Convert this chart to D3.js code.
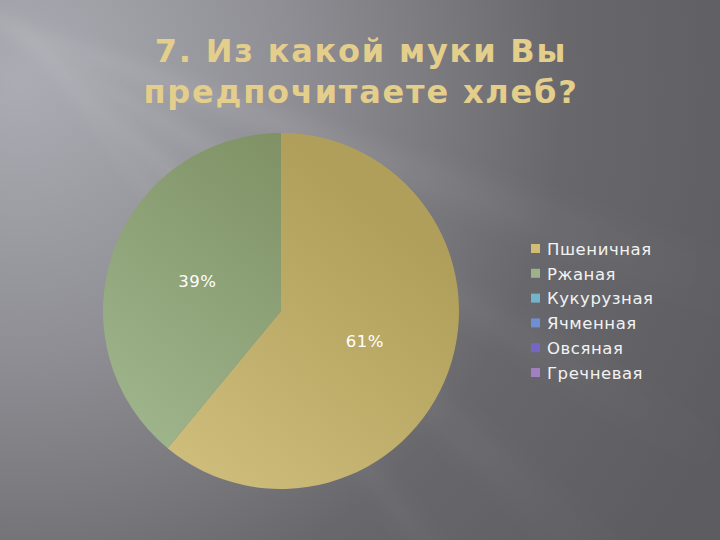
<!DOCTYPE html>
<html>
<head>
<meta charset="utf-8">
<script src="https://cdn.jsdelivr.net/npm/d3@7"></script>
<style>
  html, body { margin: 0; padding: 0; background: #636368; }
  svg { display: block; }
</style>
</head>
<body>
<svg id="chart" width="720" height="540"></svg>
<script>
var title_lines = ["7. Из какой муки Вы", "предпочитаете хлеб?"];
var categories = ["Пшеничная", "Ржаная", "Кукурузная", "Ячменная", "Овсяная", "Гречневая"];
var shares = [61, 39, 0, 0, 0, 0];
var colors = ["#d2bd72", "#9cb288", "#72b4c9", "#6e8fd2", "#7566c6", "#a27fbf"];
var lightColors = ["#d6c484", "#a6bd95", "#8cc6d6", "#8aa6dc", "#8e82d2", "#b597cc"];
var darkColors = ["#b09f5a", "#7f9165", "#5a9ab0", "#5676b8", "#5b4fa8", "#8866a4"];

var svg = d3.select("#chart");
var W = 720, H = 540;
var defs = svg.append("defs");

// background
var bg = defs.append("radialGradient").attr("id", "bg")
  .attr("gradientUnits", "userSpaceOnUse")
  .attr("cx", 20).attr("cy", 80).attr("r", 780);
bg.append("stop").attr("offset", "0").attr("stop-color", "#acacb4");
bg.append("stop").attr("offset", "0.35").attr("stop-color", "#8e8e94");
bg.append("stop").attr("offset", "0.7").attr("stop-color", "#68686c");
bg.append("stop").attr("offset", "1").attr("stop-color", "#5d5d61");
svg.append("rect").attr("width", W).attr("height", H).attr("fill", "url(#bg)");

defs.append("filter").attr("id", "blur")
  .attr("x", "-20%").attr("y", "-20%").attr("width", "140%").attr("height", "140%")
  .append("feGaussianBlur").attr("stdDeviation", 8);
var streak = defs.append("linearGradient").attr("id", "streak")
  .attr("x1", "0").attr("y1", "0").attr("x2", "1").attr("y2", "0");
streak.append("stop").attr("offset", "0").attr("stop-color", "#ffffff").attr("stop-opacity", 0.12);
streak.append("stop").attr("offset", "0.6").attr("stop-color", "#ffffff").attr("stop-opacity", 0.04);
streak.append("stop").attr("offset", "1").attr("stop-color", "#ffffff").attr("stop-opacity", 0);
var streaks = [[-60, 20, 30], [-40, 31, 22], [-20, 42, 26], [0, 52, 16]];
svg.append("g").attr("filter", "url(#blur)")
  .selectAll("path").data(streaks).enter().append("path")
  .attr("transform", function(d) { return "translate(" + d[0] + ",0) rotate(" + d[1] + ")"; })
  .attr("d", function(d) { return "M0,0 L900," + (-d[2]) + " L900," + d[2] + " Z"; })
  .attr("fill", "url(#streak)");

// title
svg.append("g").selectAll("text").data(title_lines).enter().append("text")
  .attr("x", 361).attr("y", function(d, i) { return 62 + i * 41; })
  .attr("text-anchor", "middle")
  .attr("font-family", "DejaVu Sans")
  .attr("font-weight", "bold")
  .attr("font-size", 32)
  .attr("letter-spacing", 1.8)
  .attr("fill", "#e4ce8b")
  .text(function(d) { return d; });

// pie
var cx = 281, cy = 311, r = 178;
var grads = defs.selectAll("linearGradient.slice").data(categories).enter().append("linearGradient")
  .attr("class", "slice")
  .attr("id", function(d, i) { return "g" + i; })
  .attr("gradientUnits", "userSpaceOnUse")
  .attr("x1", cx + r * 0.8).attr("y1", cy - r * 0.9)
  .attr("x2", cx - r * 0.6).attr("y2", cy + r * 0.9);
grads.append("stop").attr("offset", "0").attr("stop-color", function(d, i) { return darkColors[i]; });
grads.append("stop").attr("offset", "1").attr("stop-color", function(d, i) { return lightColors[i]; });

var data = categories.map(function(c, i) { return { name: c, value: shares[i], i: i }; });
var pie = d3.pie().sort(null).value(function(d) { return d.value; });
var arc = d3.arc().innerRadius(0).outerRadius(r);
var arcs = pie(data).filter(function(d) { return d.data.value > 0; });

var pg = svg.append("g").attr("transform", "translate(" + cx + "," + cy + ")");
pg.selectAll("path").data(arcs).enter().append("path")
  .attr("d", arc)
  .attr("fill", function(d) { return "url(#g" + d.data.i + ")"; });

pg.selectAll("text").data(arcs).enter().append("text")
  .attr("transform", function(d) { return "translate(" + arc.centroid(d) + ")"; })
  .attr("dy", "0.35em")
  .attr("text-anchor", "middle")
  .attr("font-family", "DejaVu Sans")
  .attr("font-size", 16.5)
  .attr("letter-spacing", 0.5)
  .attr("fill", "#ffffff")
  .text(function(d) { return d.data.value + "%"; });

// legend
var y = d3.scalePoint().domain(categories).range([249, 373]);
var lg = svg.append("g");
var item = lg.selectAll("g").data(categories).enter().append("g")
  .attr("transform", function(d) { return "translate(531," + y(d) + ")"; });
item.append("rect").attr("x", 0).attr("y", -5).attr("width", 9).attr("height", 9)
  .attr("fill", function(d, i) { return colors[i]; });
item.append("text").attr("x", 16).attr("y", 0).attr("dy", "0.35em")
  .attr("font-family", "DejaVu Sans").attr("font-size", 16.5)
  .attr("letter-spacing", 0.55)
  .attr("fill", "#f2f2f2")
  .text(function(d) { return d; });
</script>
</body>
</html>
